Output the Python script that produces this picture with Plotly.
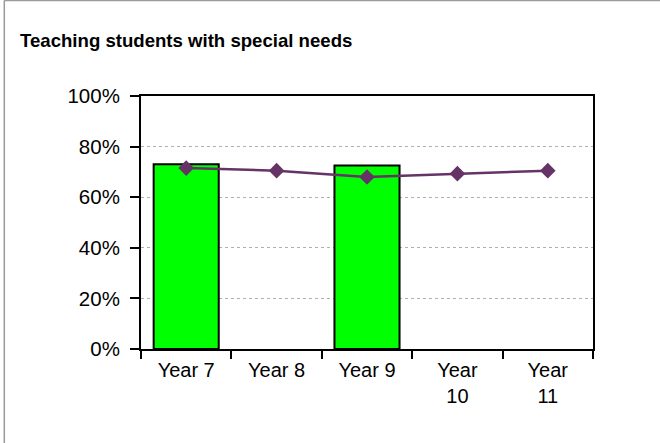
import plotly.graph_objects as go

# Data
years = ["Year 7", "Year 8", "Year 9", "Year<br>10", "Year<br>11"]
bar_values = [0.73, None, 0.725, None, None]
line_values = [0.715, 0.705, 0.68, 0.693, 0.705]
y_ticks = [0, 0.2, 0.4, 0.6, 0.8, 1.0]
y_tick_labels = ["0%", "20%", "40%", "60%", "80%", "100%"]

W, H = 660, 443
ML, MR, MT, MB = 141, 67, 96, 94
pw, ph = W - ML - MR, H - MT - MB

font_family = "Liberation Sans, Arial, sans-serif"

fig = go.Figure()

fig.add_trace(go.Bar(
    x=years, y=bar_values,
    width=0.72,
    marker=dict(color="#00ff00", line=dict(color="#000000", width=2)),
    showlegend=False,
    hoverinfo="skip",
))

fig.add_trace(go.Scatter(
    x=years, y=line_values,
    mode="lines+markers",
    line=dict(color="#663366", width=2.5),
    marker=dict(symbol="diamond", size=12, color="#663366"),
    showlegend=False,
))

# Chart frame (top and left edges)
fx0 = (4.3 - ML) / pw
fx1 = (W - ML + 5) / pw
fy_top = (H - MB - 0.5) / ph
fy_bot = -(MB + 5) / ph
fig.add_shape(type="line", xref="paper", yref="paper",
              x0=fx0, x1=fx1, y0=fy_top, y1=fy_top,
              line=dict(color="#9a9a9a", width=1.5))
fig.add_shape(type="line", xref="paper", yref="paper",
              x0=fx0, x1=fx0, y0=fy_bot, y1=fy_top,
              line=dict(color="#9a9a9a", width=1.5))

fig.update_layout(
    width=W, height=H,
    margin=dict(l=ML, r=MR, t=MT, b=MB, pad=0),
    paper_bgcolor="white",
    plot_bgcolor="white",
    font=dict(family=font_family, size=20, color="#000000"),
    title=dict(
        text="<b>Teaching students with special needs</b>",
        x=20 / W, xref="container", xanchor="left",
        y=1 - 40 / H, yref="container", yanchor="middle",
        font=dict(family=font_family, size=18.6, color="#000000"),
    ),
    xaxis=dict(
        type="category",
        range=[-0.5, 4.5],
        showline=True, linecolor="#000000", linewidth=2, mirror=True,
        ticks="outside", ticklen=8, tickwidth=2, tickcolor="#000000",
        tickson="boundaries",
        ticklabelstandoff=2,
        showgrid=False,
        tickfont=dict(family=font_family, size=20),
    ),
    xaxis2=dict(
        overlaying="x", side="bottom",
        range=[-0.5, 4.5],
        tickmode="array", tickvals=[-0.5, 0.5, 1.5, 2.5, 3.5, 4.5],
        ticks="inside", ticklen=4, tickwidth=2, tickcolor="#000000",
        showticklabels=False, showgrid=False, showline=False, zeroline=False,
    ),
    yaxis=dict(
        range=[0, 1.0],
        tickmode="array", tickvals=y_ticks, ticktext=y_tick_labels,
        showline=True, linecolor="#000000", linewidth=2, mirror=True,
        ticks="outside", ticklen=9, tickwidth=2, tickcolor="#000000",
        ticklabelstandoff=6,
        showgrid=True, gridcolor="#b0b0b0", griddash="dot", gridwidth=1,
        zeroline=False,
        tickfont=dict(family=font_family, size=20.5),
    ),
)

fig.write_html("out.html")
